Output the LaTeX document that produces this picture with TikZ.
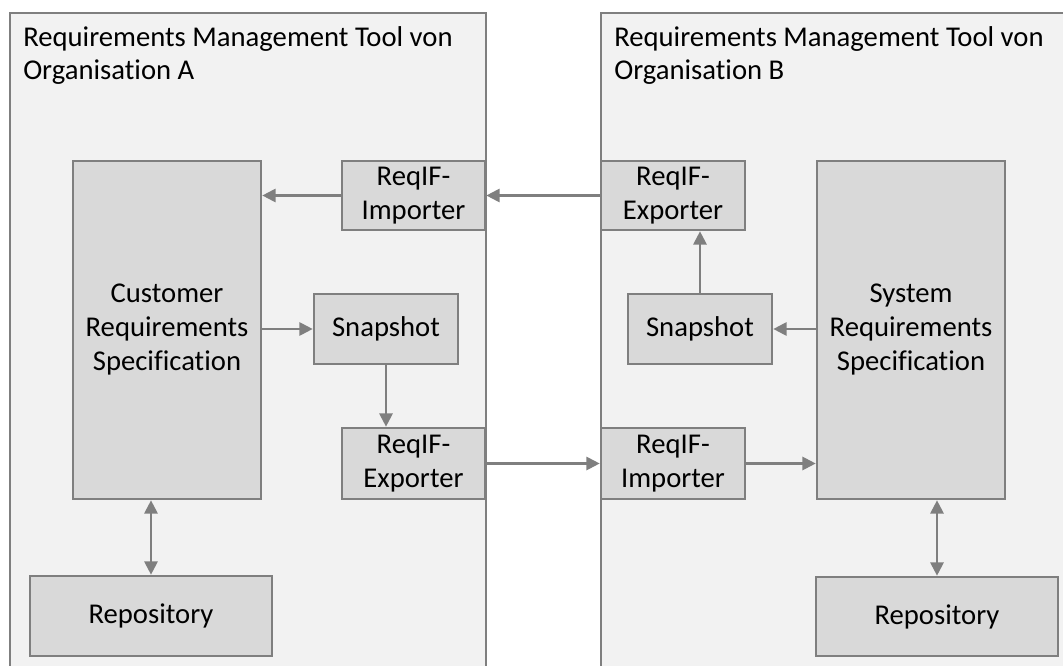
\documentclass[tikz,border=0pt]{standalone}
\usepackage{fontspec}
\setmainfont{Carlito}[Ligatures=NoCommon]
\usetikzlibrary{arrows.meta,fit}

\definecolor{edge}{HTML}{7F7F7F}
\definecolor{toolfill}{HTML}{F2F2F2}
\definecolor{partfill}{HTML}{D9D9D9}

\tikzset{
  tool/.style={draw=edge, fill=toolfill, line width=2pt, inner sep=0pt},
  part/.style={draw=edge, fill=partfill, line width=2pt, inner sep=0pt,
               align=center, font=\fontsize{21.5}{25.5}\selectfont},
  % a box given by its two corners (x1,y1) and (x2,y2)
  span/.style n args={4}{minimum width={(#3-#1)*0.75pt},
               minimum height={(#4-#2)*0.75pt},
               at={({(#1+#3)/2},{(#2+#4)/2})}},
  title/.style={anchor=north west, inner sep=0pt, align=left,
                font=\fontsize{21.5}{25}\selectfont},
  flow/.style={draw=edge, line width=1.6pt, -{Triangle[length=10pt,width=10pt]}},
  both/.style={draw=edge, line width=1.6pt,
               {Triangle[length=10pt,width=10pt]}-{Triangle[length=10pt,width=10pt]}}
}

\begin{document}
\begin{tikzpicture}[x=0.75pt, y=-0.75pt]
  \useasboundingbox (0,0) rectangle (1063,666);
  \clip (0,0) rectangle (1063,666);

  % the two tools, running past the lower and right edge
  \node[tool, fit={(10,13) (486,690)}] (orgA) {};
  \node[tool, fit={(601,13) (1090,690)}] (orgB) {};
  \node[title] (titleA) at (23,26) {Requirements Management Tool von\\Organisation A};
  \node[title] (titleB) at (614,26) {Requirements Management Tool von\\Organisation B};

  % organisation A
  \node[part, span={73}{161}{261}{499}] (crs) {Customer\\Requirements\\Specification};
  \node[part, span={30}{576}{272}{656}] (repoA) {Repository};
  \node[part, span={342}{161}{485}{230}] (impA) {ReqIF-\\Importer};
  \node[part, span={314}{294}{458}{364}] (snapA) {Snapshot};
  \node[part, span={342}{428}{485}{499}] (expA) {ReqIF-\\Exporter};

  % organisation B
  \node[part, span={817}{161}{1005}{499}] (srs) {System\\Requirements\\Specification};
  \node[part, span={816}{577}{1058}{656}] (repoB) {Repository};
  \node[part, span={601}{161}{745}{230}] (expB) {ReqIF-\\Exporter};
  \node[part, span={628}{294}{772}{364}] (snapB) {Snapshot};
  \node[part, span={601}{428}{745}{499}] (impB) {ReqIF-\\Importer};

  % exchange A -> B
  \draw[flow] (crs.east |- snapA.west) -- (snapA.west);
  \draw[flow] (snapA.south) -- (snapA.south |- expA.north);
  \draw[flow] (expA.east) -- (impB.west);
  \draw[flow] (impB.east) -- (impB.east -| srs.west);

  % exchange B -> A
  \draw[flow] (srs.west |- snapB.east) -- (snapB.east);
  \draw[flow] (snapB.north) -- (snapB.north |- expB.south);
  \draw[flow] (expB.west) -- (impA.east);
  \draw[flow] (impA.west) -- (impA.west -| crs.east);

  % repositories
  \draw[both] (repoA.north |- crs.south) -- (repoA.north);
  \draw[both] (repoB.north |- srs.south) -- (repoB.north);
\end{tikzpicture}
\end{document}
